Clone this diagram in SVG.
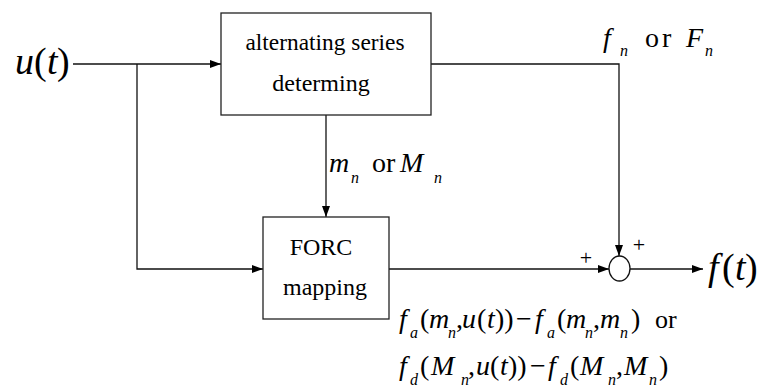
<svg xmlns="http://www.w3.org/2000/svg" width="760" height="387" viewBox="0 0 760 387">
<defs>
<style>
.box{fill:#fff;stroke:#222;stroke-width:1.3}
.ln{fill:none;stroke:#111;stroke-width:1.3}
.i{font-style:italic}
.lbl{font-size:24px}
.m{font-size:28px}
.s{font-size:16px;font-style:italic}
</style>
<marker id="ah" markerWidth="12" markerHeight="10" refX="11" refY="5" orient="auto" markerUnits="userSpaceOnUse">
<path d="M0,1 L11,5 L0,9 Z" fill="#000"/>
</marker>
</defs>
<rect width="760" height="387" fill="#fff"/>

<g id="connectors">
<path class="ln" d="M73,64 H221" marker-end="url(#ah)"/>
<path class="ln" d="M137,64 V269 H263" marker-end="url(#ah)"/>
<path class="ln" d="M326,115 V217" marker-end="url(#ah)"/>
<path class="ln" d="M431,64 H619 V256" marker-end="url(#ah)"/>
<path class="ln" d="M389,269 H609" marker-end="url(#ah)"/>
<path class="ln" d="M630,269 H703" marker-end="url(#ah)"/>
</g>

<g id="input">
<text font-family="Liberation Serif" x="15" y="74" font-size="38"><tspan class="i">u</tspan><tspan x="34">(</tspan><tspan class="i" x="47">t</tspan><tspan x="57">)</tspan></text>
</g>

<g id="alternating">
<rect class="box" x="221" y="13" width="210" height="102"/>
<text font-family="Liberation Serif" class="lbl" x="325" y="50" text-anchor="middle" textLength="159" lengthAdjust="spacingAndGlyphs">alternating series</text>
<text font-family="Liberation Serif" class="lbl" x="321" y="91" text-anchor="middle">determing</text>
</g>

<g id="forc">
<rect class="box" x="263" y="217" width="126" height="102"/>
<text font-family="Liberation Serif" class="lbl" x="321" y="255" text-anchor="middle">FORC</text>
<text font-family="Liberation Serif" class="lbl" x="325" y="295" text-anchor="middle">mapping</text>
</g>

<g id="sum">
<ellipse cx="619.5" cy="268.5" rx="10.5" ry="12.5" fill="#fff" stroke="#111" stroke-width="1.3"/>
<text font-family="Liberation Serif" x="586" y="265" font-size="22" text-anchor="middle">+</text>
<text font-family="Liberation Serif" x="639" y="252" font-size="22" text-anchor="middle">+</text>
</g>

<g id="output">
<text font-family="Liberation Serif" x="708" y="280" font-size="38"><tspan class="i">f</tspan><tspan x="722">(</tspan><tspan class="i" x="735">t</tspan><tspan x="745">)</tspan></text>
</g>

<g id="label-mn">
<text font-family="Liberation Serif" class="m" x="329" y="172"><tspan class="i">m</tspan><tspan class="s" x="351" y="183">n</tspan><tspan x="372" y="172">or</tspan><tspan class="i" x="400">M</tspan><tspan class="s" x="434" y="183">n</tspan></text>
</g>

<g id="label-fn">
<text font-family="Liberation Serif" class="m" x="603" y="47"><tspan class="i">f</tspan><tspan class="s" x="620" y="56">n</tspan><tspan x="645" y="47" letter-spacing="3">or</tspan><tspan class="i" x="686">F</tspan><tspan class="s" x="705" y="56">n</tspan></text>
</g>

<g id="label-formula">
<text font-family="Liberation Serif" class="m" y="328"><tspan class="i" x="399">f</tspan><tspan class="s" x="410" y="338">a</tspan><tspan x="420" y="328">(</tspan><tspan class="i" x="429">m</tspan><tspan class="s" x="448" y="338">n</tspan><tspan x="456" y="328">,</tspan><tspan class="i" x="462">u</tspan><tspan x="477">(</tspan><tspan class="i" x="487">t</tspan><tspan x="495">))</tspan><tspan x="516">−</tspan><tspan class="i" x="535">f</tspan><tspan class="s" x="547" y="338">a</tspan><tspan x="557" y="328">(</tspan><tspan class="i" x="566">m</tspan><tspan class="s" x="585" y="338">n</tspan><tspan x="593" y="328">,</tspan><tspan class="i" x="600">m</tspan><tspan class="s" x="620" y="338">n</tspan><tspan x="631" y="328">)</tspan><tspan x="655" font-size="26">or</tspan></text>
<text font-family="Liberation Serif" class="m" y="375"><tspan class="i" x="399">f</tspan><tspan class="s" x="410" y="385">d</tspan><tspan x="420" y="375">(</tspan><tspan class="i" x="431">M</tspan><tspan class="s" x="461" y="385">n</tspan><tspan x="468" y="375">,</tspan><tspan class="i" x="476">u</tspan><tspan x="490">(</tspan><tspan class="i" x="500">t</tspan><tspan x="508">))</tspan><tspan x="530">−</tspan><tspan class="i" x="548">f</tspan><tspan class="s" x="560" y="385">d</tspan><tspan x="570" y="375">(</tspan><tspan class="i" x="580">M</tspan><tspan class="s" x="608" y="385">n</tspan><tspan x="616" y="375">,</tspan><tspan class="i" x="624">M</tspan><tspan class="s" x="649" y="385">n</tspan><tspan x="659" y="375">)</tspan></text>
</g>
</svg>
